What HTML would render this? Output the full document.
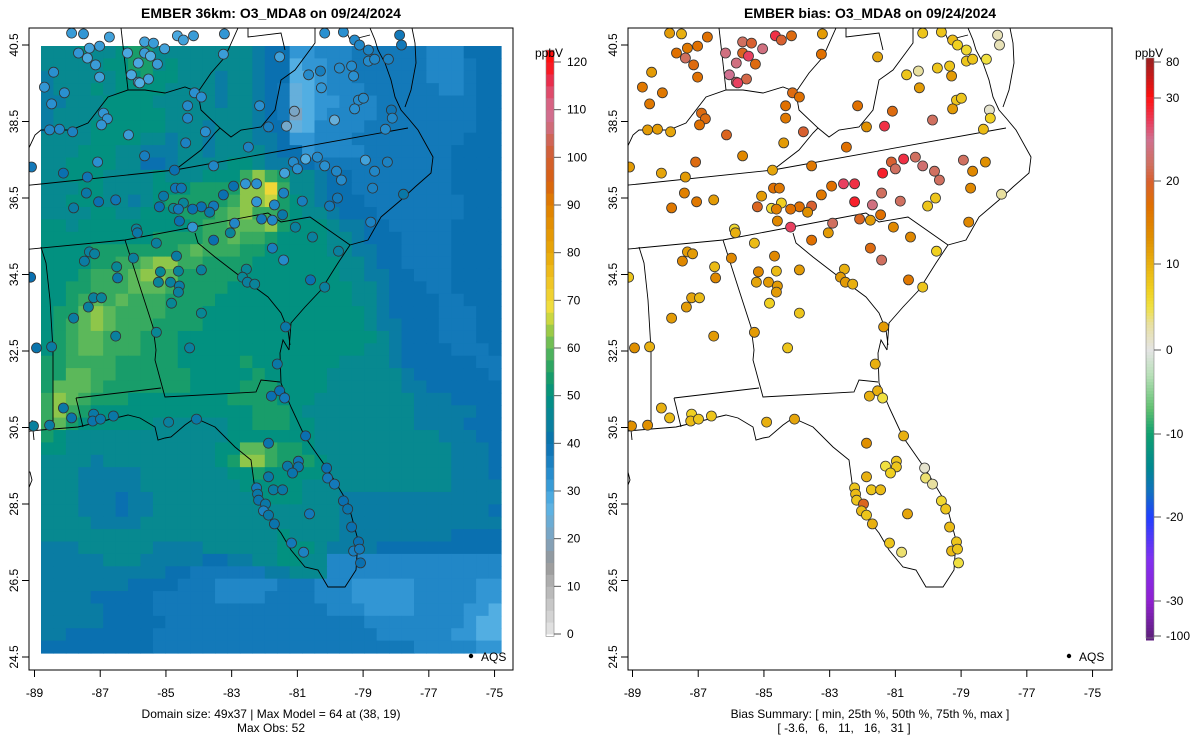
<!DOCTYPE html>
<html><head><meta charset="utf-8">
<style>
html,body{margin:0;padding:0;background:#fff;}
svg{display:block;font-family:"Liberation Sans",Arial,sans-serif;}
.pre{white-space:pre;}
</style></head>
<body>
<svg id="c" width="1200" height="750" viewBox="0 0 1200 750" xmlns="http://www.w3.org/2000/svg">
<defs>
<clipPath id="clipL"><rect x="29" y="28" width="484" height="642"/></clipPath>
<clipPath id="clipR"><rect x="628" y="28" width="483" height="642"/></clipPath>
</defs>
<g id="left"></g>
<g id="right"></g>
</svg>
<script>
// ---- data ----
const gridRows = [
"66676 67886 66666 66544 11222 33333 32224 44",
"66666 77886 76666 66544 01122 33333 32223 44",
"56666 67787 76665 66544 00122 33333 32223 44",
"56667 67777 66665 66543 y0122 23333 33223 44",
"55666 77776 66665 66543 y0112 22333 33333 44",
"56666 77777 66666 66543 x0122 22333 33333 44",
"56667 77777 66656 66544 y0222 23333 33333 44",
"66667 77766 56656 66554 11222 33333 33334 44",
"66677 76655 56656 66654 41222 23333 33344 44",
"66777 76644 56666 77655 44333 33333 33344 44",
"66777 66667 66677 79B98 66544 33333 33344 44",
"66677 66667 77888 8BBD9 66544 33333 33344 44",
"66777 66567 88888 9BBC8 76544 43333 33334 44",
"66667 76677 78889 AB998 76654 44333 33334 44",
"77677 77777 77899 AAAB8 77765 54433 33344 44",
"77777 77778 88899 A9987 77766 54443 33344 44",
"77778 88888 89A99 98877 77766 55443 33344 44",
"77778 899AB B9988 88777 77776 65443 33344 44",
"77789 99ABB A8888 87777 77776 65544 33344 44",
"77889 99AAA 98888 77777 77777 66544 43344 44",
"7789A 9A999 88887 77777 77777 66544 44334 44",
"788AB A9999 88877 77777 77777 76544 44333 44",
"789AB A9998 88877 77777 77777 76554 44333 44",
"789AA 99988 87777 77777 77777 77654 44333 44",
"789AA 99988 87777 77777 77777 76654 44433 34",
"88999 98888 87777 78777 77776 66654 44444 33",
"88AA9 98888 88777 77877 77766 66665 44444 43",
"8AAA9 88888 88777 78887 77766 66665 54444 44",
"9BA98 88777 77777 88887 77666 66666 55544 44",
"9B987 77777 77777 77888 76666 66666 55555 44",
"9A877 77776 66666 77888 77666 66666 55554 44",
"87666 66666 66666 77777 77666 66666 66555 44",
"77666 66666 66667 7AA98 87666 66666 66655 54",
"66665 66666 66667 8BB98 88766 66666 66655 54",
"66655 55566 66666 77877 77766 66666 66655 54",
"66655 55566 66666 67777 76666 66666 66655 55",
"66655 54556 66666 66777 76665 55555 55555 55",
"66655 54556 66666 66666 66665 55555 55555 54",
"66665 55566 66666 66666 66665 55555 55555 55",
"66666 66666 66666 66667 66665 55555 55544 44",
"55566 66665 55566 66667 77655 55444 44444 44",
"55555 66655 55544 55667 76622 22222 22222 22",
"55555 55555 44333 33355 66622 22222 22222 22",
"55555 55444 43332 22223 33222 11111 22222 11",
"55554 44443 33332 22233 33222 11111 22222 11",
"55555 44443 33333 33333 33322 21111 22221 10",
"55555 44444 33333 33333 33333 32222 22221 00",
"55444 44443 33333 33333 33333 33222 22211 00",
"44444 44443 33333 33333 33333 33333 22222 11"
];
const codeVals = {"x":20,"y":25,"0":28,"1":32,"2":35,"3":38,"4":40,"5":43,"6":47,"7":50,"8":54,"9":57,"A":60,"B":63,"C":66,"D":70};

const stLon = [-87.87,-87.51,-86.72,-87.66,-87.33,-87.39,-87.02,-87.14,-87.02,-88.42,-88.70,-88.09,-88.48,-86.90,-86.78,-86.96,-88.54,-88.24,-87.84,-86.14,
-85.65,-85.38,-86.17,-85.04,-85.84,-85.65,-85.47,-85.26,-86.05,-85.84,-85.53,-85.80,-84.65,-84.47,-84.16,-83.22,-83.25,
-84.13,-83.92,-84.34,-84.34,-83.80,-84.40,
-85.65,-87.08,-88.12,-87.39,-89.09,-84.74,-83.55,
-82.49,-81.88,-82.15,-81.09,-81.33,
-81.54,-80.66,-80.30,-80.27,-80.17,-79.60,-79.72,-79.35,-79.29,-79.26,-79.11,-78.84,-78.84,-78.65,-78.23,-77.89,-77.83,
-79.14,-78.99,-79.26,-79.87,-78.14,-78.11,-78.32,
-78.26,-78.93,-78.65,-78.71,-77.77,
-78.77,-79.78,-80.02,-79.66,-79.81,-80.17,-80.39,-80.75,-81.12,-81.00,-81.39,-81.42,-82.24,-82.24,-82.58,
-82.94,-81.70,-80.85,-83.25,-82.09,-81.76,-81.45,-81.06,-80.54,-82.91,-83.04,-83.55,-84.19,-83.55,-83.92,-83.67,-84.19,-84.47,-84.77,-84.62,-84.59,-84.71,-84.53,-85.07,-85.20,-85.90,-85.87,-85.29,-87.42,-87.05,-86.53,-87.81,
-85.99,-87.33,-87.17,-87.48,-86.50,-86.47,-84.68,-85.17,-84.62,-83.92,-85.23,-84.86,-84.59,-84.62,-84.83,-83.92,-87.20,-86.96,-87.36,-87.81,-86.53,-85.29,
-81.76,-81.42,-82.55,-82.67,-82.52,-82.30,-80.60,-80.17,-79.75,-81.36,-89.12,-88.94,-88.48,
-84.28,-81.61,-81.79,-81.54,-81.39,-88.12,-87.87,-87.20,-87.23,-86.99,-86.60,-88.54,-89.03,-84.92,-84.07,-80.75,-81.88,-81.30,-80.97,-80.97,-81.15,-81.88,-80.11,-80.08,-79.87,-82.24,-82.21,-82.18,-81.97,-82.03,-81.88,-81.73,-81.45,-81.70,-80.63,-79.60,-79.47,-79.35,-81.18,-80.81,-79.14,-79.29,-79.11,-79.08];
const stLat = [40.81,40.79,40.71,40.29,40.42,40.16,40.47,39.98,39.66,39.79,39.40,39.25,38.96,38.72,38.57,38.41,38.28,38.30,38.23,38.15,
40.58,40.55,40.29,40.40,40.03,40.29,40.21,40.00,39.72,39.53,39.61,39.51,40.74,40.63,40.74,40.79,40.26,
39.25,39.14,38.91,38.59,38.23,37.94,
37.60,37.44,37.15,37.05,37.31,37.23,37.34,
37.83,38.36,38.91,38.77,38.38,
40.19,39.72,39.82,39.38,40.81,40.84,39.90,39.95,39.69,40.63,40.50,40.37,40.08,40.13,40.13,40.76,40.50,
39.06,39.11,38.83,38.54,38.80,38.59,38.30,
37.44,37.49,37.20,36.76,36.60,
35.87,36.50,36.29,36.97,37.20,37.34,37.57,37.52,37.44,37.26,37.15,36.63,36.40,36.87,36.87,
36.81,36.32,36.42,36.58,35.95,35.92,36.06,35.74,35.48,35.84,35.59,35.40,35.74,36.29,36.27,36.13,36.21,36.37,36.23,36.21,35.90,36.76,36.76,36.55,36.27,35.69,35.59,35.32,36.63,36.40,36.45,36.24,
34.93,35.09,35.04,34.85,34.70,34.41,34.98,34.57,34.59,34.62,34.30,34.30,34.20,34.04,33.75,33.49,33.89,33.89,33.65,33.36,32.89,32.99,
35.19,34.88,34.64,34.43,34.30,34.25,34.36,34.17,35.11,33.13,34.43,32.58,32.61,
32.58,32.16,31.32,31.46,31.27,31.01,30.75,30.85,30.67,30.72,30.80,30.56,30.54,30.64,30.72,30.28,30.09,29.49,29.62,29.47,29.31,29.21,29.44,29.18,29.02,28.92,28.76,28.60,28.50,28.32,28.21,28.87,28.87,27.98,28.24,28.58,28.37,27.90,27.48,27.24,27.51,27.27,27.32,26.96];
const stObs = [31,32,30,32,30,29,31,31,30,33,32,33,33,32,32,32,35,35,36,31,
30,31,29,30,29,31,28,31,29,30,30,28,29,30,31,32,31,
33,33,34,35,33,36,
37,33,40,39,38,40,35,
36,37,33,21,22,
30,34,37,32,33,33,34,34,33,34,35,36,34,35,36,38,38,
34,34,33,25,39,35,34,
36,30,35,36,42,
36,38,38,34,35,33,34,28,34,33,30,36,32,33,32,
40,35,37,40,38,35,42,44,44,35,45,40,32,38,40,42,40,45,46,38,40,39,39,42,40,45,42,44,42,40,39,43,
44,44,44,43,46,42,43,46,45,44,45,44,43,44,46,46,44,45,44,43,44,46,37,34,46,46,44,45,40,44,44,42,40,41,43,
44,42,40,40,38,42,41,42,41,42,42,43,44,44,42,40,41,42,39,41,41,42,40,38,38,38,42,41,42,36,42,43,42,41,38,40,41,40,38,36,40,37,38,40];
const stBias = [12,10,17,17,16,22,17,18,17,12,16,16,16,18,18,17,12,12,11,19,
22,20,24,24,24,19,27,18,25,23,21,27,28,20,18,12,17,
18,17,17,16,20,12,
14,18,11,12,12,11,16,
17,13,17,18,28,
11,8,3,12,8,8,8,8,12,9,7,6,8,8,5,2,2,
8,8,12,22,1,7,9,
13,22,14,14,3,
14,8,8,22,22,23,22,28,20,22,29,22,29,28,27,
17,24,22,16,19,12,17,14,14,22,12,17,27,20,17,13,17,7,6,15,14,17,16,12,19,6,10,9,15,16,12,16,
14,12,12,14,9,14,14,14,9,12,11,12,12,12,7,8,11,9,12,12,12,12,
18,22,10,12,12,10,16,8,7,12,8,13,10,
8,10,10,10,5,10,9,7,9,8,8,13,13,10,11,10,13,5,8,8,7,10,1,4,3,8,9,8,19,9,8,8,9,10,11,6,8,9,8,4,8,9,8,5];

const obsTicks = [0,10,20,30,40,50,60,70,80,90,100,110,120];
const biasTicks = [-100,-30,-20,-10,0,10,20,30,80];
const xTicks = [-89,-87,-85,-83,-81,-79,-77,-75];
const yTicks = [40.5,38.5,36.5,34.5,32.5,30.5,28.5,26.5,24.5];

// ---- scales ----
const NS="http://www.w3.org/2000/svg";
function xL(lon){return 34.5+(lon+89)*32.86;}
function yM(lat){return 45+(40.5-lat)*38.25;}
const RX=598;
function hex(c){return [parseInt(c.slice(1,3),16),parseInt(c.slice(3,5),16),parseInt(c.slice(5,7),16)];}
function interp(stops,v){
  if(v<=stops[0][0])return stops[0][1];
  for(let i=1;i<stops.length;i++){
    if(v<=stops[i][0]){
      const a=stops[i-1],b=stops[i],t=(v-a[0])/(b[0]-a[0]);
      const ca=hex(a[1]),cb=hex(b[1]);
      return "rgb("+ca.map((x,k)=>Math.round(x+(cb[k]-x)*t)).join(",")+")";
    }
  }
  return stops[stops.length-1][1];
}
const obsStops=[[0,'#e6e6e6'],[10,'#b4b4b4'],[15,'#979797'],[20,'#7fa3bf'],[27,'#5ab4e6'],[33,'#2a90d0'],[40,'#0a70b0'],[45,'#0a849a'],[50,'#029180'],[55,'#1ea064'],[60,'#5cb85a'],[65,'#b0d040'],[68,'#f0e040'],[75,'#f0c020'],[80,'#e8a808'],[90,'#e08000'],[95,'#d86010'],[102,'#d06040'],[108,'#d07090'],[112,'#d86080'],[116,'#e83050'],[120,'#ff1010']];
const biasStops=[[-100,'#602080'],[-30,'#9020d0'],[-25,'#8030f0'],[-20,'#2040ff'],[-17,'#1070c0'],[-14,'#008890'],[-10,'#10a070'],[-7,'#60c070'],[-3,'#b8e0b8'],[0,'#e4e4e4'],[3,'#e8e0a0'],[5,'#f0e040'],[7,'#f0d020'],[10,'#e8b010'],[13,'#e09000'],[17,'#e07000'],[20,'#d86030'],[22,'#d07060'],[25,'#d07090'],[27,'#e84060'],[30,'#ff1010'],[80,'#a02020']];
function obsY(v){return 634-v*(572/120);}
const biasY=[636,601,517,434,350,264,181,98,62];
function bY(v){
  for(let i=1;i<biasTicks.length;i++){if(v<=biasTicks[i]){const t=(v-biasTicks[i-1])/(biasTicks[i]-biasTicks[i-1]);return biasY[i-1]+(biasY[i]-biasY[i-1])*t;}}
  return biasY[biasY.length-1];
}
function el(tag,attrs,parent,txt){const e=document.createElementNS(NS,tag);for(const k in attrs)e.setAttribute(k,attrs[k]);if(txt!==undefined)e.textContent=txt;parent.appendChild(e);return e;}

// ---- outlines (pixel polylines, left-panel coords) ----
const outlines=[
"20,186 41,184 175,170 408,128",
"20,250 125,240 268,213 281,222 310,217 350,245",
"195,233 198,243 215,257 241,277 268,297 281,313 288,330 290,345",
"125,240 141,290 153,327 156,350 155,360 165,397 256,392 261,380 280,382",
"41,247 46,263 50,300 53,350 53,427",
"76,398 161,388",
"76,398 78,406 83,427",
"20,432 41,430 78,427 128,415 140,418 155,427 158,440 165,438 171,437 185,425 195,418 215,427 235,447 251,460 255,490 265,513 281,533 291,550 305,567 318,570 328,587 345,587 356,570 358,540 348,503 328,470 305,437 291,407 281,383 280,353 283,340 289,350",
"289,350 291,323 305,307 321,290 338,263 350,245 368,240 381,217 401,200 415,187 431,173 433,157 418,130 408,118 401,110 395,97 391,80 385,63 378,50 375,40 370,28",
"405,107 411,90 416,63 415,43 412,28",
"220,128 231,137 241,130 261,127 275,110 281,80 295,70 315,43 315,28",
"175,170 201,150 215,133 220,128 201,110 198,93",
"28,150 35,135 41,130 71,130 88,123 108,97 128,90 145,90 165,93 185,87 198,92 211,73 225,57 238,28",
"121,28 128,90",
"248,28 248,37 281,33 285,50",
"345,28 350,40 370,35",
"20,470 30,472 32,480 28,490",
"32,420 34,440"
];

function drawPanel(g,dx,clipId,isBias){
  const mapG=el('g',{'clip-path':'url(#'+clipId+')'},g);
  
  
  if(!isBias){
    const hm=el('g',{},mapG);
    
    
    const cw=460/37, ch=607/49;
    gridRows.forEach((row,r)=>{
      const s=row.replace(/ /g,'');
      for(let c=0;c<37;c++){
        const v=codeVals[s[c]]!==undefined?codeVals[s[c]]:40;
        const rc=el('rect',{x:(41+c*cw).toFixed(2),y:(46+r*ch).toFixed(2),width:(cw+0.6).toFixed(2),height:(ch+0.6).toFixed(2),fill:interp(obsStops,v)},hm);
        
        
      }
    });
  }
  const ol=el('g',{transform:'translate('+dx+',0)',fill:'none',stroke:'#000','stroke-width':'0.9'},mapG);
  
  
  outlines.forEach(p=>{el('polyline',{points:p},ol);});
  const dots=el('g',{},mapG);
  
  
  const n=Math.min(stLon.length,stLat.length,stObs.length,stBias.length);
  for(let i=0;i<n;i++){
    const col=isBias?interp(biasStops,stBias[i]):interp(obsStops,stObs[i]);
    const d=el('circle',{cx:(xL(stLon[i])+dx).toFixed(1),cy:yM(stLat[i]).toFixed(1),r:5,fill:col,stroke:'#333','stroke-width':'0.8'},dots);
    
    
  }
  const fr=el('rect',{x:29+dx-(isBias?-1:0),y:28,width:484,height:642,fill:'none',stroke:'#000','stroke-width':'1'},g);
  
  
  const xa=el('g',{},g);
  
  
  xTicks.forEach(t=>{
    const x=xL(t)+dx;
    el('line',{x1:x,x2:x,y1:670,y2:677,stroke:'#000'},xa);
    const tx=el('text',{x:x,y:697,'font-size':'12','text-anchor':'middle'},xa,String(t));
    
    
  });
  const ya=el('g',{},g);
  
  
  yTicks.forEach(t=>{
    const y=yM(t), x0=29+dx+(isBias?1:0);
    el('line',{x1:x0,x2:x0-7,y1:y,y2:y,stroke:'#000'},ya);
    const tx=el('text',{x:0,y:0,'font-size':'12','text-anchor':'middle',transform:'translate('+(x0-11)+','+y+') rotate(-90)'},ya,t.toFixed(1));
    
    
  });
  const lg=el('g',{},g);
  
  
  el('circle',{cx:471+dx,cy:656,r:2.2,fill:'#000'},lg);
  el('text',{x:481+dx,y:661,'font-size':'12'},lg,'AQS');
}

const svg=document.getElementById('c');
const L=document.getElementById('left'), R=document.getElementById('right');
drawPanel(L,0,'clipL',false);
drawPanel(R,RX,'clipR',true);

let t=el('text',{x:271,y:18,'font-size':'14','font-weight':'bold','text-anchor':'middle'},L,'EMBER 36km: O3_MDA8 on 09/24/2024');


t=el('text',{x:870,y:18,'font-size':'14','font-weight':'bold','text-anchor':'middle'},R,'EMBER bias: O3_MDA8 on 09/24/2024');


t=el('text',{x:271,y:718,'font-size':'12','text-anchor':'middle'},L,'Domain size: 49x37 | Max Model = 64 at (38, 19)');


t=el('text',{x:271,y:732,'font-size':'12','text-anchor':'middle'},L,'Max Obs: 52');


t=el('text',{x:870,y:718,'font-size':'12','text-anchor':'middle'},R,'Bias Summary: [ min, 25th %, 50th %, 75th %, max ]');


t=el('text',{x:844,y:732,'font-size':'12','text-anchor':'middle','class':'pre'},R,'[ -3.6,   6,   11,   16,   31 ]');



const cb1=el('g',{},L);


for(let v=0;v<=120;v+=2.5){
  el('rect',{x:546,y:obsY(v+2.5),width:8,height:(572/120*2.5+0.5),fill:interp(obsStops,v+1.25)},cb1);
}
el('rect',{x:546,y:obsY(122.5),width:8,height:obsY(-0.5)-obsY(122.5),fill:'none',stroke:'#888','stroke-width':'0.6'},cb1);
el('text',{x:549,y:57,'font-size':'12','text-anchor':'middle'},cb1,'ppbV');
obsTicks.forEach(v=>{
  el('line',{x1:554,x2:561,y1:obsY(v),y2:obsY(v),stroke:'#555'},cb1);
  const tx=el('text',{x:567,y:obsY(v)+4,'font-size':'12'},cb1,String(v));
  
  
});
const cb2=el('g',{},R);


for(let y=58;y<638;y+=3){
  let v=0;
  for(let i=1;i<biasY.length;i++){ if(y>=biasY[i]){const tt=(y+1.5-biasY[i-1])/(biasY[i]-biasY[i-1]);v=biasTicks[i-1]+(biasTicks[i]-biasTicks[i-1])*tt;break;} }
  if(y<biasY[biasY.length-1])v=80;
  el('rect',{x:1146,y:y,width:8,height:3.5,fill:interp(biasStops,v)},cb2);
}
el('rect',{x:1146,y:58,width:8,height:580,fill:'none',stroke:'#888','stroke-width':'0.6'},cb2);
el('text',{x:1149,y:57,'font-size':'12','text-anchor':'middle'},cb2,'ppbV');
biasTicks.forEach(v=>{
  const y=bY(v);
  el('line',{x1:1154,x2:1161,y1:y,y2:y,stroke:'#555'},cb2);
  const tx=el('text',{x:1166,y:y+4,'font-size':'12'},cb2,String(v));
  
  
});
</script>
</body></html>
